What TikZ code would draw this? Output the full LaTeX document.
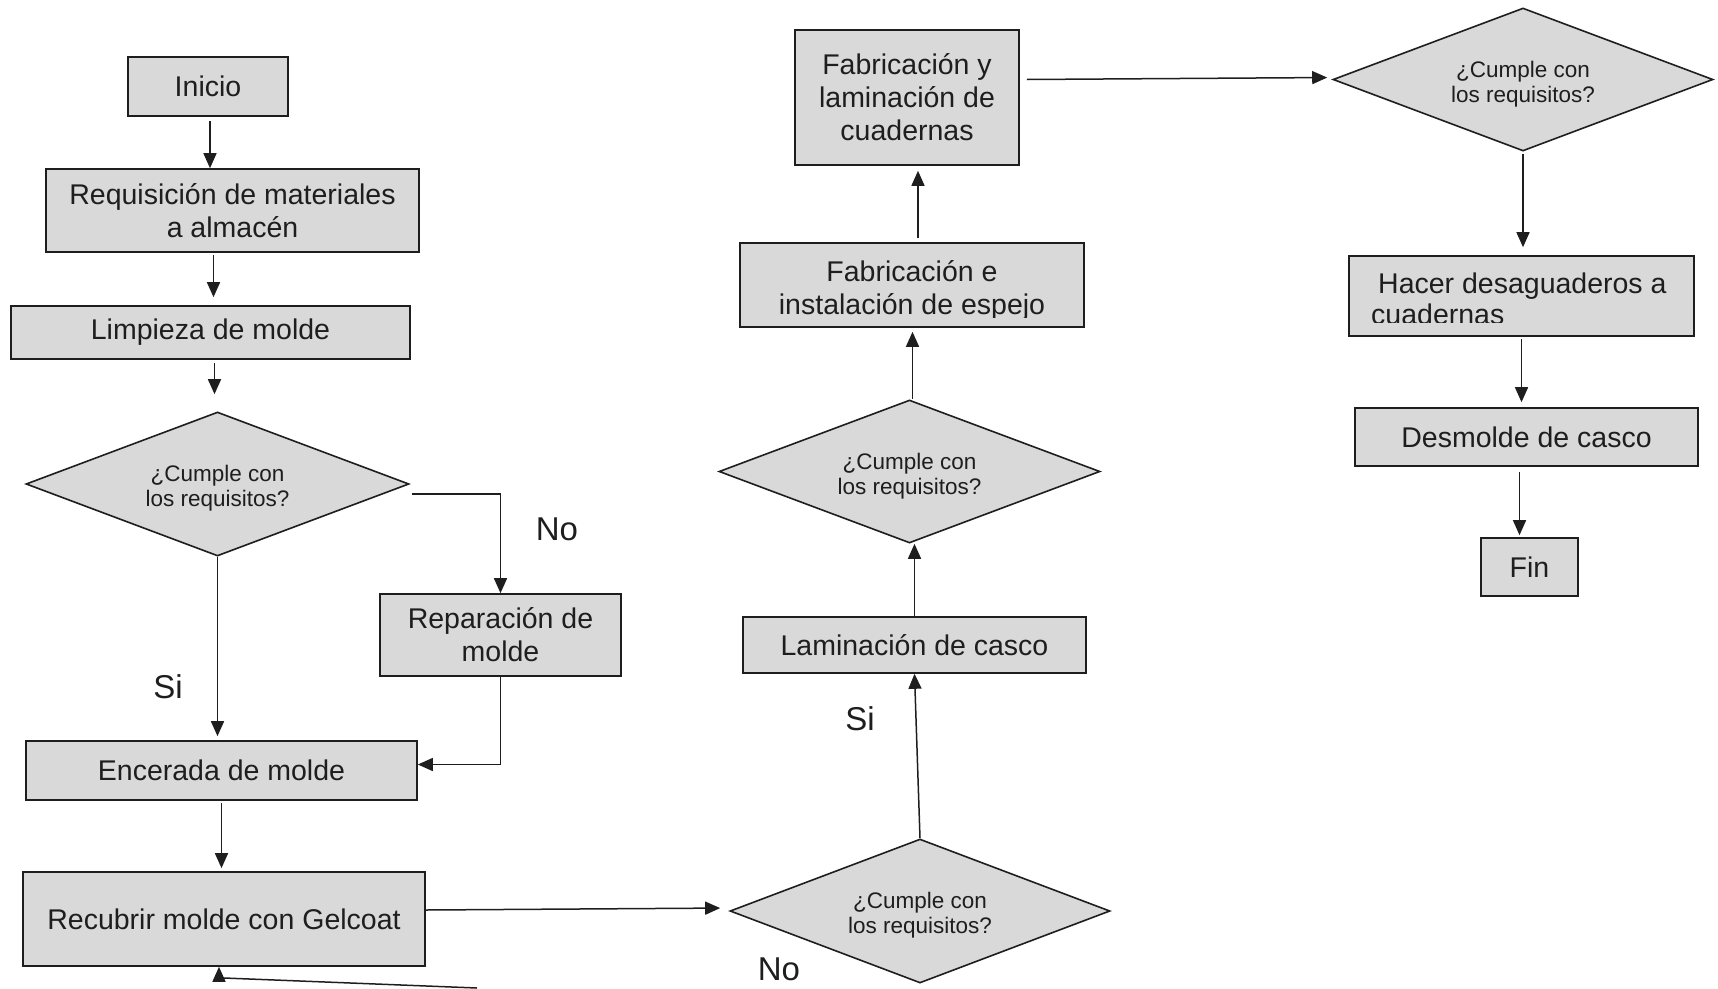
\documentclass[tikz,border=0pt]{standalone}
\usepackage{fontspec}
\setmainfont{Liberation Sans}
\usetikzlibrary{arrows.meta,shapes.geometric,calc}
\definecolor{boxgray}{HTML}{D9D9D9}
\definecolor{ink}{HTML}{1E1E1E}
\newcommand{\qtxt}{\rule{0pt}{25pt}¿Cumple con\\los requisitos?}
\begin{document}
\begin{tikzpicture}[x=1pt,y=-1pt,
  box/.style={draw=ink,fill=boxgray,line width=1.6pt,rectangle,inner sep=0pt,align=center,text=ink,font=\fontsize{28.5}{33}\selectfont},
  boxtext/.style={inner sep=0pt,align=center,text=ink,font=\fontsize{28.5}{33}\selectfont},
  dia/.style={draw=ink,fill=boxgray,line width=1.6pt,diamond,aspect=2.65,inner sep=0pt,align=center,text=ink,font=\fontsize{22.5}{25}\selectfont},
  arr/.style={draw=ink,line width=1.5pt,-{Triangle[length=15pt,width=13pt]}},
  lbl/.style={inner sep=0pt,text=ink,font=\fontsize{33}{36}\selectfont}]
\useasboundingbox (0,0) rectangle (1718,988);
% left column
\node[box,minimum width=160pt,minimum height=59pt] (ini) at (208,86.5) {Inicio};
\node[box,minimum width=373pt,minimum height=83pt] (req) at (232.5,210.5) {Requisición de materiales\\a almacén};
\node[box,minimum width=399pt,minimum height=53pt] (lim) at (210.5,332.5) {Limpieza de molde};
\node[dia,minimum width=383pt,minimum height=144pt] (d1) at (217.5,484) {\qtxt};
\node[box,minimum width=241pt,minimum height=82pt] (rep) at (500.5,635) {Reparación de\\molde};
\node[box,minimum width=391pt,minimum height=59pt] (enc) at (221.5,770.5) {Encerada de molde};
\node[box,minimum width=402pt,minimum height=94pt] (rec) at (224,919) {Recubrir molde con Gelcoat};
% middle column
\node[dia,minimum width=380pt,minimum height=144pt] (d2) at (920,911) {\qtxt};
\node[box,minimum width=343pt,minimum height=56pt] (lam) at (914.5,645) {Laminación de casco};
\node[dia,minimum width=381pt,minimum height=143pt] (d3) at (909.5,471.5) {\qtxt};
\node[box,minimum width=344pt,minimum height=84pt] (esp) at (912,285) {};
\begin{scope}
\clip (740,243) rectangle (1084,317);
\node[boxtext] (esptxt) at (912,290) {Fabricación e\\instalación de espejo};
\end{scope}
\node[box,minimum width=224pt,minimum height=135pt] (fab) at (907,97.5) {Fabricación y\\laminación de\\cuadernas};
% right column
\node[dia,minimum width=380pt,minimum height=143pt] (d4) at (1523,79.5) {\qtxt};
\node[box,minimum width=345pt,minimum height=80pt] (hac) at (1521.5,296) {};
\begin{scope}
\clip (1349,256) rectangle (1694,322);
\node[boxtext,align=left,anchor=north west,font=\fontsize{28.5}{31}\selectfont] (hactxt) at (1371,273) {\hspace*{7pt}Hacer desaguaderos a\\cuadernas};
\end{scope}
\node[box,minimum width=343pt,minimum height=58pt] (des) at (1526.5,437) {Desmolde de casco};
\node[box,minimum width=97pt,minimum height=58pt] (fin) at (1529.5,567) {Fin};
% labels
\node[lbl] (lno1) at (557,529) {No};
\node[lbl] (lsi1) at (168,687) {Si};
\node[lbl] (lsi2) at (860,719) {Si};
\node[lbl] (lno2) at (779,969) {No};
\coordinate (nofree) at (477,988);
% connectors
\draw[arr] ([xshift=2pt,yshift=-4pt]ini.south) -- ([xshift=2pt]ini.south |- req.north);
\draw[arr,shorten >=8pt] ([xshift=-19pt,yshift=-2pt]req.south) -- ([xshift=-19pt]req.south |- lim.north);
\draw[arr,shorten >=17pt] ([xshift=4pt,yshift=-3pt]lim.south) -- ([xshift=4pt]lim.south |- d1.north);
\draw[arr] ([xshift=2pt,yshift=-10pt]d1.east) -| (rep.north);
\draw[arr,shorten >=4pt] (d1.south) -- (d1.south |- enc.north);
\draw[arr] (rep.south) |- ([yshift=6pt]enc.east);
\draw[arr,shorten >=3pt] ([yshift=-2pt]enc.south) -- (enc.south |- rec.north);
\draw[arr,shorten >=9pt] ([yshift=9pt]rec.east) -- ([yshift=3pt]d2.west);
\draw[arr] (d2.north) -- (lam.south);
\draw[arr] (lam.north) -- (lam.north |- d3.south);
\draw[arr,shorten >=4pt] ([xshift=3pt]d3.north) -- ([xshift=3pt]d3.north |- esp.south);
\draw[arr,shorten >=5pt] ([xshift=6pt,yshift=4pt]esp.north) -- ([xshift=6pt]esp.north |- fab.south);
\draw[arr,shorten >=5pt] ([xshift=7pt,yshift=18pt]fab.east) -- ([yshift=2pt]d4.west);
\draw[arr,shorten >=8pt] ([yshift=-2pt]d4.south) -- (d4.south |- hac.north);
\draw[arr,shorten >=5pt] ([yshift=-2pt]hac.south) -- (hac.south |- des.north);
\draw[arr,shorten >=2pt] ([xshift=-7pt,yshift=-5pt]des.south) -- ([xshift=-7pt]des.south |- fin.north);
\draw[arr] (nofree) -- ([xshift=-5pt,yshift=-11pt]rec.south) -- ([xshift=-5pt]rec.south);
\end{tikzpicture}
\end{document}
